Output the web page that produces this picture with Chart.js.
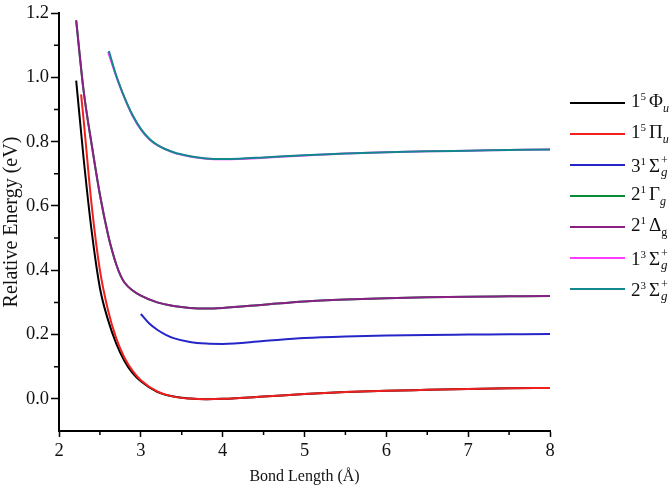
<!DOCTYPE html>
<html>
<head>
<meta charset="utf-8">
<script src="https://cdn.jsdelivr.net/npm/chart.js@4.4.1/dist/chart.umd.min.js"></script>
<style>
  html, body { margin: 0; padding: 0; background: #fff; }
  #wrap { position: relative; width: 671px; height: 489px; }
  #legend { position: absolute; left: 0; top: 0; width: 671px; height: 489px; pointer-events: none; }
  .item { position: absolute; left: 570px; height: 24px; display: flex; align-items: center;
          font-family: "Liberation Serif", "DejaVu Serif", serif; font-size: 19px; color: #111; }
  .item .ln { width: 55px; height: 2px; margin-right: 6px; }
  .item sup { font-size: 11px; vertical-align: 7px; margin-right: 3px; }
  .item sub { font-size: 12px; vertical-align: -5px; }
  .ss { position: relative; display: inline-block; width: 9px; height: 18px; margin-left: 1px; }
  .ss .p { position: absolute; left: 0; top: -1px; font-size: 12px; line-height: 14px; }
  .ss .g { position: absolute; left: 0; top: 11px; font-size: 13px; line-height: 14px; }
</style>
</head>
<body>
<div id="wrap">
  <canvas id="myChart" width="671" height="489"></canvas>
  <div id="legend"></div>
</div>
<script>
// bond length (Å) and relative energy (eV) for each state
const rPhi = [2.21, 2.3, 2.4, 2.5, 2.6, 2.7, 2.8, 2.9, 3.0, 3.2, 3.4, 3.6, 3.8, 4.0, 4.5, 5.0, 5.5, 6.0, 6.5, 7.0, 7.5, 8.0];
const ePhi = [0.99, 0.75, 0.52, 0.345, 0.245, 0.172, 0.118, 0.08, 0.055, 0.022, 0.007, 0.001, -0.001, 0.0, 0.007, 0.015, 0.021, 0.025, 0.028, 0.031, 0.033, 0.034];

const rPi = [2.27, 2.3, 2.4, 2.5, 2.6, 2.7, 2.8, 2.9, 3.0, 3.2, 3.4, 3.6, 3.8, 4.0, 4.5, 5.0, 5.5, 6.0, 6.5, 7.0, 7.5, 8.0];
const ePi = [0.947, 0.87, 0.60, 0.40, 0.275, 0.188, 0.128, 0.087, 0.058, 0.023, 0.007, 0.001, -0.001, 0.0, 0.007, 0.015, 0.021, 0.025, 0.028, 0.031, 0.033, 0.034];

const rSig31 = [3.0, 3.1, 3.2, 3.3, 3.4, 3.6, 3.8, 4.0, 4.5, 5.0, 5.5, 6.0, 6.5, 7.0, 7.5, 8.0];
const eSig31 = [0.264, 0.235, 0.215, 0.2, 0.189, 0.177, 0.172, 0.171, 0.18, 0.189, 0.194, 0.197, 0.199, 0.2, 0.201, 0.202];

const rGam = [2.21, 2.3, 2.4, 2.5, 2.6, 2.65, 2.7, 2.75, 2.8, 2.9, 3.0, 3.2, 3.4, 3.6, 3.8, 4.0, 4.5, 5.0, 5.5, 6.0, 6.5, 7.0, 7.5, 8.0];
const eGam = [1.176, 0.96, 0.79, 0.635, 0.51, 0.46, 0.418, 0.385, 0.362, 0.337, 0.321, 0.30, 0.289, 0.283, 0.281, 0.283, 0.293, 0.303, 0.309, 0.313, 0.316, 0.318, 0.319, 0.32];

const rDel = [2.21, 2.3, 2.4, 2.5, 2.6, 2.65, 2.7, 2.75, 2.8, 2.9, 3.0, 3.2, 3.4, 3.6, 3.8, 4.0, 4.5, 5.0, 5.5, 6.0, 6.5, 7.0, 7.5, 8.0];
const eDel = [1.178, 0.96, 0.79, 0.635, 0.51, 0.46, 0.418, 0.385, 0.362, 0.337, 0.321, 0.30, 0.289, 0.283, 0.281, 0.283, 0.293, 0.303, 0.309, 0.313, 0.316, 0.318, 0.319, 0.32];

const rSig13 = [2.6, 2.7, 2.8, 2.9, 3.0, 3.1, 3.2, 3.4, 3.6, 3.8, 4.0, 4.2, 4.5, 5.0, 5.5, 6.0, 6.5, 7.0, 7.5, 8.0];
const eSig13 = [1.079, 1.003, 0.936, 0.880, 0.838, 0.808, 0.789, 0.766, 0.754, 0.747, 0.745, 0.746, 0.75, 0.757, 0.763, 0.767, 0.77, 0.772, 0.774, 0.776];

const rSig23 = [2.61, 2.7, 2.8, 2.9, 3.0, 3.1, 3.2, 3.4, 3.6, 3.8, 4.0, 4.2, 4.5, 5.0, 5.5, 6.0, 6.5, 7.0, 7.5, 8.0];
const eSig23 = [1.082, 1.005, 0.938, 0.882, 0.840, 0.810, 0.790, 0.767, 0.755, 0.748, 0.746, 0.747, 0.751, 0.758, 0.763, 0.767, 0.77, 0.772, 0.774, 0.776];

const xTickLabels = [2, 3, 4, 5, 6, 7, 8];
const xMinorTicks = [2.5, 3.5, 4.5, 5.5, 6.5, 7.5];
const yTickLabels = [0.0, 0.2, 0.4, 0.6, 0.8, 1.0, 1.2];
const yMinorTicks = [0.1, 0.3, 0.5, 0.7, 0.9, 1.1];

const sigma = '<span class="ss"><span class="p">+</span><span class="g"><i>g</i></span></span>';
const series = [
  { r: rPhi,   e: ePhi,   color: '#000000', label: '1<sup>5</sup>Φ<sub><i>u</i></sub>' },
  { r: rPi,    e: ePi,    color: '#f21f1f', label: '1<sup>5</sup>Π<sub><i>u</i></sub>' },
  { r: rSig31, e: eSig31, color: '#2626c8', label: '3<sup>1</sup>Σ' + sigma },
  { r: rGam,   e: eGam,   color: '#0a8a36', label: '2<sup>1</sup>Γ<sub><i>g</i></sub>' },
  { r: rDel,   e: eDel,   color: '#8a1f86', label: '2<sup>1</sup>Δ<sub>g</sub>' },
  { r: rSig13, e: eSig13, color: '#ff3cff', label: '1<sup>3</sup>Σ' + sigma },
  { r: rSig23, e: eSig23, color: '#12888e', label: '2<sup>3</sup>Σ' + sigma }
];

const legendTops = [103, 134, 165, 196, 227, 258, 289];

// legend as html so the term symbols keep their sub/superscripts
const legend = document.getElementById('legend');
series.forEach((s, i) => {
  const item = document.createElement('div');
  item.className = 'item';
  item.style.top = (legendTops[i] - 12) + 'px';
  item.innerHTML = `<div class="ln" style="background:${s.color}"></div><span>${s.label}</span>`;
  legend.appendChild(item);
});

const minorTicks = {
  id: 'minorTicks',
  afterDraw(chart) {
    const { ctx, scales: { x, y } } = chart;
    ctx.save();
    ctx.strokeStyle = '#000';
    ctx.lineWidth = 1.5;
    ctx.beginPath();
    xMinorTicks.forEach(v => {
      const px = x.getPixelForValue(v);
      ctx.moveTo(px, x.top);
      ctx.lineTo(px, x.top + 4);
    });
    yMinorTicks.forEach(v => {
      const py = y.getPixelForValue(v);
      ctx.moveTo(y.right, py);
      ctx.lineTo(y.right - 5, py);
    });
    ctx.stroke();
    ctx.restore();
  }
};

const tickFont = { family: '"Liberation Serif", serif', size: 18.5 };

new Chart(document.getElementById('myChart'), {
  type: 'line',
  data: {
    datasets: series.map((s, i) => ({
      data: s.r.map((r, k) => ({ x: r, y: s.e[k] })),
      borderColor: s.color,
      borderWidth: 2,
      pointRadius: 0,
      fill: false,
      cubicInterpolationMode: 'monotone',
      order: -i
    }))
  },
  options: {
    responsive: false,
    animation: false,
    layout: { padding: { top: 10, right: 121, left: 0, bottom: 0 } },
    plugins: { legend: { display: false }, tooltip: { enabled: false } },
    scales: {
      x: {
        type: 'linear',
        min: 2,
        max: 8,
        afterFit: s => { s.height = 58; },
        afterBuildTicks: s => { s.ticks = xTickLabels.map(v => ({ value: v })); },
        ticks: { font: tickFont, color: '#111', padding: 3, maxRotation: 0 },
        grid: { drawOnChartArea: false, tickLength: 6, tickWidth: 1.5, tickColor: '#000' },
        border: { color: '#000', width: 2 },
        title: { display: true, text: 'Bond Length (Å)', color: '#111',
                 font: { family: '"Liberation Serif", serif', size: 16 }, padding: { top: 0, bottom: 3 } }
      },
      y: {
        min: -0.1,
        max: 1.2,
        afterFit: s => { s.width = 59; },
        afterBuildTicks: s => { s.ticks = yTickLabels.map(v => ({ value: v })); },
        ticks: { font: tickFont, color: '#111', padding: 2, callback: v => v.toFixed(1) },
        grid: { drawOnChartArea: false, tickLength: 8, tickWidth: 1.5, tickColor: '#000' },
        border: { color: '#000', width: 2 },
        title: { display: true, text: 'Relative Energy (eV)', color: '#111',
                 font: { family: '"Liberation Serif", serif', size: 20 }, padding: 0 }
      }
    }
  },
  plugins: [minorTicks]
});
</script>
</body>
</html>
